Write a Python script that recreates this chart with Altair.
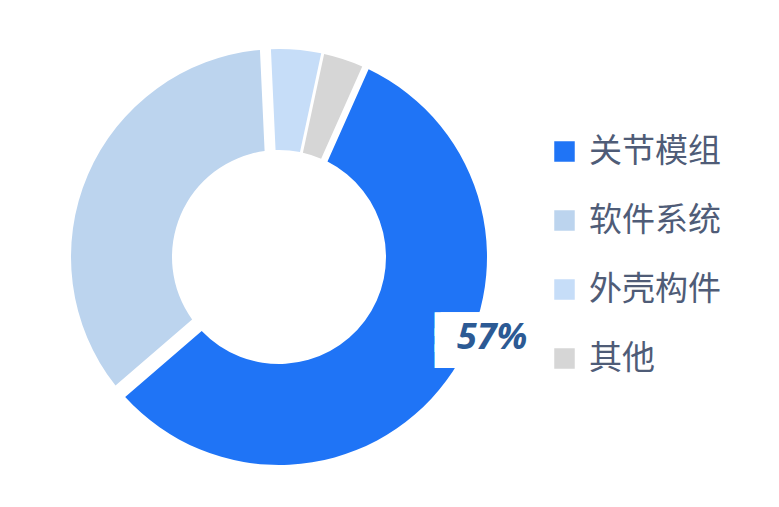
import math
import altair as alt
import pandas as pd

# ---- data ----
categories = ["关节模组", "软件系统", "外壳构件", "其他"]
values = [57, 35.6, 4.1, 3.3]
colors = ["#1F74F6", "#BCD4EE", "#C6DDF8", "#D6D6D6"]
gap_px = [11, 19, 3, 3]          # white separation each slice leaves on its edges

df = pd.DataFrame({"category": categories, "value": values,
                   "order": list(range(len(categories)))})

total = sum(values)
start = math.radians(24)
inner_r, outer_r = 107, 208
pad_radius = math.sqrt(inner_r ** 2 + outer_r ** 2)
cx, cy = 271, 249

theta_scale = alt.Scale(domain=[0, total], range=[start, start + 2 * math.pi])
color_scale = alt.Scale(domain=categories, range=colors)

base = (alt.Chart(df)
        .transform_window(cum="sum(value)", sort=[{"field": "order"}], frame=[None, 0])
        .transform_calculate(start="datum.cum - datum.value",
                             mid="datum.cum - datum.value / 2",
                             label="format(datum.value, '.0f') + '%'"))

layers = []
for cat, gp in zip(categories, gap_px):
    layers.append(
        base.transform_filter(alt.datum.category == cat)
        .mark_arc(innerRadius=inner_r, outerRadius=outer_r, padAngle=gp / pad_radius)
        .encode(
            theta=alt.Theta("start:Q", scale=theta_scale),
            theta2="cum:Q",
            color=alt.Color("category:N", scale=color_scale,
                            legend=alt.Legend(title=None, orient="none",
                                              legendX=540, legendY=127,
                                              symbolType="square", symbolSize=420,
                                              symbolStrokeWidth=0, symbolOpacity=1,
                                              labelFont="Noto Sans CJK SC",
                                              labelFontSize=33, labelColor="#4F5C77",
                                              labelOffset=8, rowPadding=35,
                                              padding=0)),
            x=alt.value(cx), y=alt.value(cy),
        )
    )

big = base.transform_filter(alt.datum.category == categories[0])

box_kw = dict(radius=220, thetaOffset=-0.253, dy=-15, font="DejaVu Sans Mono",
              fontSize=20, lineHeight=16, color="white", align="center",
              baseline="middle")
box_a = big.mark_text(text=["████████"] * 3, **box_kw).encode(
    theta=alt.Theta("mid:Q", scale=theta_scale), x=alt.value(cx), y=alt.value(cy))
box_b = big.mark_text(text=["███████"] * 3, **box_kw).encode(
    theta=alt.Theta("mid:Q", scale=theta_scale), x=alt.value(cx), y=alt.value(cy))

label = big.mark_text(radius=228, thetaOffset=-0.276, font="Noto Sans",
                      fontSize=36, fontStyle="italic", fontWeight="bold",
                      color="#2C5A94", align="center", baseline="middle").encode(
    theta=alt.Theta("mid:Q", scale=theta_scale), text="label:N",
    x=alt.value(cx), y=alt.value(cy))

chart = (alt.layer(*layers, box_a, box_b, label)
         .properties(width=750, height=488, padding=0, background="white")
         .configure_view(stroke=None))

chart.save("out.html", embed_options={"renderer": "svg", "actions": False})
